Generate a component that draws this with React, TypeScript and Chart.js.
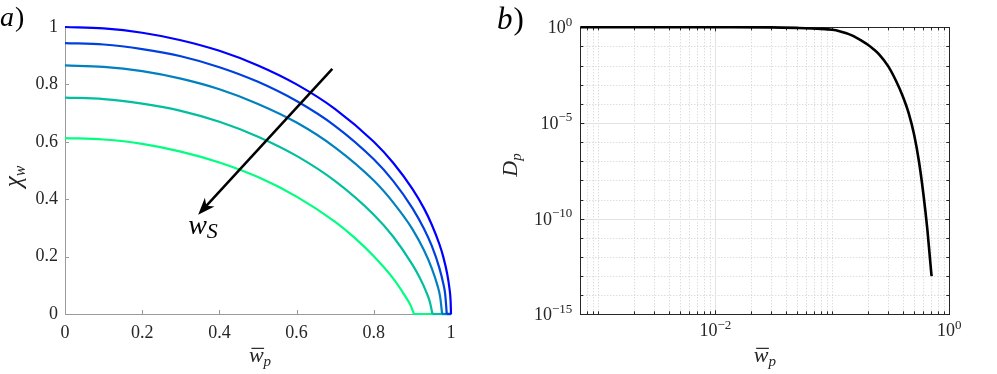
import React, { useEffect, useRef } from "react";
import { Chart, registerables } from "chart.js";

Chart.register(...registerables);

const SERIF = '"Liberation Serif", "DejaVu Serif", serif';
const TEXT = "#262626";
const AXIS_A = "#9a9a9a";
const BOX_B = "#262626";

// ---------------- Panel a data ----------------
const wpTicksA = [0, 0.2, 0.4, 0.6, 0.8, 1];
const chiTicksA = [0, 0.2, 0.4, 0.6, 0.8, 1];

const curve1Wp = [0, 0.1, 0.2, 0.3, 0.4, 0.5, 0.6, 0.7, 0.8, 0.85, 0.9, 0.93, 0.95, 0.97, 0.98, 0.99, 0.996, 0.999, 1.0];
const curve1Chi = [1.0, 0.995, 0.98, 0.954, 0.917, 0.866, 0.8, 0.714, 0.6, 0.527, 0.436, 0.368, 0.312, 0.243, 0.199, 0.141, 0.089, 0.045, 0];

const curve2Wp = [0, 0.1, 0.2, 0.3, 0.4, 0.5, 0.6, 0.7, 0.8, 0.85, 0.9, 0.93, 0.95, 0.97, 0.98, 0.985, 0.989, 1.0];
const curve2Chi = [0.944, 0.939, 0.923, 0.898, 0.86, 0.809, 0.742, 0.655, 0.539, 0.464, 0.369, 0.297, 0.238, 0.16, 0.106, 0.068, 0, 0];

const curve3Wp = [0, 0.1, 0.2, 0.3, 0.4, 0.5, 0.6, 0.7, 0.8, 0.85, 0.9, 0.93, 0.95, 0.965, 0.972, 0.977, 1.0];
const curve3Chi = [0.866, 0.861, 0.846, 0.82, 0.783, 0.732, 0.667, 0.58, 0.465, 0.389, 0.296, 0.222, 0.16, 0.099, 0.059, 0, 0];

const curve4Wp = [0, 0.1, 0.2, 0.3, 0.4, 0.5, 0.6, 0.7, 0.8, 0.85, 0.9, 0.92, 0.935, 0.945, 0.952, 1.0];
const curve4Chi = [0.754, 0.749, 0.733, 0.708, 0.67, 0.618, 0.551, 0.463, 0.346, 0.27, 0.172, 0.124, 0.08, 0.043, 0, 0];

const curve5Wp = [0, 0.1, 0.2, 0.3, 0.4, 0.5, 0.6, 0.7, 0.75, 0.8, 0.85, 0.88, 0.895, 0.904, 1.0];
const curve5Chi = [0.613, 0.608, 0.593, 0.566, 0.528, 0.477, 0.409, 0.321, 0.266, 0.201, 0.124, 0.065, 0.031, 0, 0];

const curveColors = ["#0000ff", "#0040df", "#0080bf", "#00bf9f", "#00ff80"];

const arrowFrom = [0.6925, 0.854];
const arrowTo = [0.345, 0.346];
const arrowLabelAt = [0.319, 0.278];

// ---------------- Panel b data ----------------
const dpWp = [0.0007, 0.001, 0.003, 0.01, 0.03, 0.05, 0.08, 0.1, 0.115, 0.13, 0.145, 0.16, 0.18, 0.2, 0.225, 0.25, 0.3, 0.35, 0.4, 0.45, 0.5, 0.55, 0.6, 0.65, 0.7, 0.706];
const dpVal = [1, 1, 0.9999, 0.999, 0.99, 0.93, 0.83, 0.74, 0.63, 0.5, 0.39, 0.29, 0.19, 0.127, 0.072, 0.04, 9.3e-3, 1.6e-3, 2.5e-4, 3.2e-5, 2.5e-6, 1e-7, 2e-9, 2.5e-11, 1.6e-13, 1e-13];

const xTicksB = [1e-2, 1];
const xTickExpB = ["\u22122", "0"];
const yTicksB = [1, 1e-5, 1e-10, 1e-15];
const yTickExpB = ["0", "\u22125", "\u221210", "\u221215"];

// ---------------- helpers ----------------
type Part = { t: string; size: number; italic?: boolean; dy?: number; dx?: number; bar?: boolean };
const fontOf = (p: Part) => `${p.italic ? "italic " : ""}${p.size}px ${SERIF}`;

function measureParts(ctx: CanvasRenderingContext2D, parts: Part[]) {
  let w = 0;
  for (const p of parts) {
    ctx.font = fontOf(p);
    w += ctx.measureText(p.t).width + (p.dx || 0);
  }
  return w;
}

function drawParts(ctx: CanvasRenderingContext2D, parts: Part[], x: number, y: number) {
  let cx = x;
  for (const p of parts) {
    ctx.font = fontOf(p);
    const w = ctx.measureText(p.t).width;
    const px = cx + (p.dx || 0);
    ctx.fillText(p.t, px, y + (p.dy || 0));
    if (p.bar) {
      ctx.save();
      ctx.lineWidth = 1.2;
      ctx.strokeStyle = ctx.fillStyle as string;
      ctx.beginPath();
      const by = y + (p.dy || 0) - p.size * 0.62;
      ctx.moveTo(px + 2.5, by);
      ctx.lineTo(px + w + 0.5, by);
      ctx.stroke();
      ctx.restore();
    }
    cx = px + w;
  }
}

const wpTitle: Part[] = [
  { t: "w", size: 22, italic: true, bar: true },
  { t: "p", size: 15, italic: true, dy: 4, dx: 0 },
];

// ---------------- plugins ----------------
const panelAPlugin = {
  id: "panelA",
  beforeDatasetsDraw(chart: any) {
    const { ctx, chartArea: ca, scales } = chart;
    const xs = scales.x, ys = scales.y;
    ctx.save();
    ctx.strokeStyle = AXIS_A;
    ctx.lineWidth = 1;
    ctx.beginPath();
    for (const v of wpTicksA) {
      const px = Math.round(xs.getPixelForValue(v)) + 0.5;
      ctx.moveTo(px, ca.bottom);
      ctx.lineTo(px, ca.bottom - 4);
    }
    for (const v of chiTicksA) {
      const py = Math.round(ys.getPixelForValue(v)) + 0.5;
      ctx.moveTo(ca.left, py);
      ctx.lineTo(ca.left + 4, py);
    }
    ctx.stroke();
    ctx.restore();
  },
  afterDatasetsDraw(chart: any) {
    const { ctx, scales } = chart;
    const xs = scales.x, ys = scales.y;
    ctx.save();
    const x0 = xs.getPixelForValue(arrowFrom[0]);
    const y0 = ys.getPixelForValue(arrowFrom[1]);
    const x1 = xs.getPixelForValue(arrowTo[0]);
    const y1 = ys.getPixelForValue(arrowTo[1]);
    const len = Math.hypot(x1 - x0, y1 - y0);
    const ux = (x1 - x0) / len, uy = (y1 - y0) / len;
    const L = 17, W = 6.5, inset = 5;
    ctx.strokeStyle = "#000";
    ctx.fillStyle = "#000";
    ctx.lineWidth = 2.5;
    ctx.beginPath();
    ctx.moveTo(x0, y0);
    ctx.lineTo(x1 - ux * (L - inset), y1 - uy * (L - inset));
    ctx.stroke();
    ctx.beginPath();
    ctx.moveTo(x1, y1);
    ctx.lineTo(x1 - ux * L - uy * W, y1 - uy * L + ux * W);
    ctx.lineTo(x1 - ux * (L - inset), y1 - uy * (L - inset));
    ctx.lineTo(x1 - ux * L + uy * W, y1 - uy * L - ux * W);
    ctx.closePath();
    ctx.fill();
    const lx = xs.getPixelForValue(arrowLabelAt[0]);
    const ly = ys.getPixelForValue(arrowLabelAt[1]);
    drawParts(ctx, [
      { t: "w", size: 28, italic: true },
      { t: "S", size: 22, italic: true, dy: 4, dx: 0 },
    ], lx, ly);
    ctx.restore();
  },
  afterDraw(chart: any) {
    const { ctx, chartArea: ca } = chart;
    ctx.save();
    ctx.fillStyle = TEXT;
    ctx.textBaseline = "alphabetic";
    const wT = measureParts(ctx, wpTitle);
    drawParts(ctx, wpTitle, (ca.left + ca.right) / 2 + 2 - wT / 2, 362);
    const yT: Part[] = [
      { t: "\u03c7", size: 25, italic: true },
      { t: "w", size: 16, italic: true, dy: 4 },
    ];
    const wY = measureParts(ctx, yT);
    ctx.save();
    ctx.translate(21, 176.5);
    ctx.rotate(-Math.PI / 2);
    drawParts(ctx, yT, -wY / 2, 0);
    ctx.restore();
    ctx.fillStyle = "#000";
    drawParts(ctx, [
      { t: "a", size: 28, italic: true },
      { t: ")", size: 28, dx: 1 },
    ], 0, 25.5);
    ctx.restore();
  },
};

const panelBPlugin = {
  id: "panelB",
  beforeDatasetsDraw(chart: any) {
    const { ctx, chartArea: ca, scales } = chart;
    const xs = scales.x, ys = scales.y;
    const xMin = xs.min, xMax = xs.max, yMin = ys.min, yMax = ys.max;
    const xMinor: number[] = [];
    for (let d = Math.floor(Math.log10(xMin)); d <= Math.ceil(Math.log10(xMax)); d++) {
      for (let k = 1; k <= 9; k++) {
        const v = k * Math.pow(10, d);
        if (v <= xMin * 1.0001 || v >= xMax * 0.9999) continue;
        if (xTicksB.some((t) => Math.abs(t - v) / t < 1e-6)) continue;
        xMinor.push(v);
      }
    }
    const yMinor: number[] = [];
    for (let d = Math.round(Math.log10(yMin)) + 1; d < Math.round(Math.log10(yMax)); d++) {
      if (yTicksB.some((t) => Math.abs(Math.log10(t) - d) < 1e-6)) continue;
      yMinor.push(Math.pow(10, d));
    }
    ctx.save();
    ctx.strokeStyle = "#cfcfcf";
    ctx.lineWidth = 1;
    ctx.setLineDash([1, 2]);
    ctx.beginPath();
    for (const v of xMinor) {
      const px = Math.round(xs.getPixelForValue(v)) + 0.5;
      ctx.moveTo(px, ca.top);
      ctx.lineTo(px, ca.bottom);
    }
    for (const v of yMinor) {
      const py = Math.round(ys.getPixelForValue(v)) + 0.5;
      ctx.moveTo(ca.left, py);
      ctx.lineTo(ca.right, py);
    }
    ctx.stroke();
    ctx.setLineDash([]);
    ctx.strokeStyle = "#e3e3e3";
    ctx.beginPath();
    for (const v of xTicksB) {
      const px = Math.round(xs.getPixelForValue(v)) + 0.5;
      ctx.moveTo(px, ca.top);
      ctx.lineTo(px, ca.bottom);
    }
    for (const v of yTicksB) {
      const py = Math.round(ys.getPixelForValue(v)) + 0.5;
      ctx.moveTo(ca.left, py);
      ctx.lineTo(ca.right, py);
    }
    ctx.stroke();
    ctx.strokeStyle = BOX_B;
    ctx.beginPath();
    const tickX = (v: number, l: number) => {
      const px = Math.round(xs.getPixelForValue(v)) + 0.5;
      ctx.moveTo(px, ca.bottom);
      ctx.lineTo(px, ca.bottom - l);
      ctx.moveTo(px, ca.top);
      ctx.lineTo(px, ca.top + l);
    };
    const tickY = (v: number, l: number) => {
      const py = Math.round(ys.getPixelForValue(v)) + 0.5;
      ctx.moveTo(ca.left, py);
      ctx.lineTo(ca.left + l, py);
      ctx.moveTo(ca.right, py);
      ctx.lineTo(ca.right - l, py);
    };
    xMinor.forEach((v) => tickX(v, 3));
    xTicksB.forEach((v) => tickX(v, 4));
    yMinor.forEach((v) => tickY(v, 3));
    yTicksB.forEach((v) => tickY(v, 4));
    ctx.stroke();
    ctx.strokeRect(Math.round(ca.left) + 0.5, Math.round(ca.top) + 0.5, Math.round(ca.right - ca.left), Math.round(ca.bottom - ca.top));
    ctx.restore();
  },
  afterDraw(chart: any) {
    const { ctx, chartArea: ca, scales } = chart;
    const xs = scales.x, ys = scales.y;
    ctx.save();
    ctx.fillStyle = TEXT;
    ctx.textBaseline = "alphabetic";
    yTicksB.forEach((v, i) => {
      const py = ys.getPixelForValue(v);
      const parts: Part[] = [
        { t: "10", size: 18 },
        { t: yTickExpB[i], size: 13, dy: -7.5 },
      ];
      const w = measureParts(ctx, parts);
      drawParts(ctx, parts, ca.left - 8 - w, py + 6);
    });
    xTicksB.forEach((v, i) => {
      const px = xs.getPixelForValue(v);
      const parts: Part[] = [
        { t: "10", size: 18 },
        { t: xTickExpB[i], size: 13, dy: -7.5 },
      ];
      const w = measureParts(ctx, parts);
      drawParts(ctx, parts, px - w / 2, 336);
    });
    const wT = measureParts(ctx, wpTitle);
    drawParts(ctx, wpTitle, (ca.left + ca.right) / 2 - wT / 2, 362);
    const yT: Part[] = [
      { t: "D", size: 22, italic: true },
      { t: "p", size: 15, italic: true, dy: 4 },
    ];
    const wY = measureParts(ctx, yT);
    ctx.save();
    ctx.translate(517 - 490, 165);
    ctx.rotate(-Math.PI / 2);
    drawParts(ctx, yT, -wY / 2, 0);
    ctx.restore();
    ctx.fillStyle = "#000";
    drawParts(ctx, [
      { t: "b", size: 31, italic: true },
      { t: ")", size: 31, dx: 1 },
    ], 7, 28.5);
    ctx.restore();
  },
};

export default function App() {
  const refA = useRef<HTMLCanvasElement>(null);
  const refB = useRef<HTMLCanvasElement>(null);

  useEffect(() => {
    const curves = [
      [curve1Wp, curve1Chi],
      [curve2Wp, curve2Chi],
      [curve3Wp, curve3Chi],
      [curve4Wp, curve4Chi],
      [curve5Wp, curve5Chi],
    ];
    const fmtA = (v: number) => (v === 0 ? "0" : v === 1 ? "1" : v.toFixed(1));
    const tickFont = { family: SERIF, size: 18 };

    const datasetsA: any[] = [];
    curves.forEach(([wp, chi], i) => {
      const pts = wp.map((w, j) => ({ x: w, y: chi[j] }));
      const firstZero = chi.findIndex((c) => c === 0);
      const arc = pts.slice(0, firstZero + 1);
      const flat = pts.slice(firstZero);
      const common = { borderColor: curveColors[i], borderWidth: 2.2, pointRadius: 0, fill: false, clip: false };
      datasetsA.push({ ...common, data: arc, cubicInterpolationMode: "monotone" });
      if (flat.length > 1) datasetsA.push({ ...common, data: flat, tension: 0 });
    });

    const chartA = new Chart(refA.current as HTMLCanvasElement, {
      type: "line",
      data: { datasets: datasetsA },
      options: {
        responsive: false,
        animation: false,
        devicePixelRatio: 1,
        events: [],
        layout: { padding: { left: 0, top: 27, right: 39, bottom: 0 } },
        plugins: { legend: { display: false }, tooltip: { enabled: false } },
        scales: {
          x: {
            type: "linear",
            min: 0,
            max: 1,
            afterBuildTicks: (s: any) => {
              s.ticks = wpTicksA.map((v) => ({ value: v }));
            },
            afterFit: (s: any) => {
              s.height = 60;
            },
            grid: { display: false, drawTicks: false },
            border: { display: true, color: AXIS_A, width: 1 },
            ticks: { font: tickFont, color: TEXT, padding: 8, maxRotation: 0, callback: (v: any) => fmtA(Number(v)) },
          },
          y: {
            type: "linear",
            min: 0,
            max: 1,
            afterBuildTicks: (s: any) => {
              s.ticks = chiTicksA.map((v) => ({ value: v }));
            },
            afterFit: (s: any) => {
              s.width = 65;
            },
            grid: { display: false, drawTicks: false },
            border: { display: true, color: AXIS_A, width: 1 },
            ticks: { font: tickFont, color: TEXT, padding: 7, callback: (v: any) => fmtA(Number(v)) },
          },
        },
      },
      plugins: [panelAPlugin as any],
    });

    const chartB = new Chart(refB.current as HTMLCanvasElement, {
      type: "line",
      data: {
        datasets: [
          {
            data: dpWp.map((w, j) => ({ x: w, y: dpVal[j] })),
            borderColor: "#000",
            borderWidth: 2.6,
            pointRadius: 0,
            fill: false,
            cubicInterpolationMode: "monotone" as const,
            clip: false as any,
          },
        ],
      },
      options: {
        responsive: false,
        animation: false,
        devicePixelRatio: 1,
        events: [],
        layout: { padding: { left: 0, top: 27.3, right: 47.7, bottom: 0 } },
        plugins: { legend: { display: false }, tooltip: { enabled: false } },
        scales: {
          x: {
            type: "logarithmic",
            min: 7e-4,
            max: 1,
            afterBuildTicks: (s: any) => {
              s.ticks = xTicksB.map((v) => ({ value: v }));
            },
            afterFit: (s: any) => {
              s.height = 59.7;
            },
            grid: { display: false, drawTicks: false },
            border: { display: false },
            ticks: { display: false },
          },
          y: {
            type: "logarithmic",
            min: 1e-15,
            max: 1,
            afterBuildTicks: (s: any) => {
              s.ticks = yTicksB.map((v) => ({ value: v }));
            },
            afterFit: (s: any) => {
              s.width = 90.3;
            },
            grid: { display: false, drawTicks: false },
            border: { display: false },
            ticks: { display: false },
          },
        },
      },
      plugins: [panelBPlugin as any],
    });

    return () => {
      chartA.destroy();
      chartB.destroy();
    };
  }, []);

  return (
    <div style={{ position: "fixed", left: 0, top: 0, width: 997, height: 374, background: "#fff", overflow: "hidden" }}>
      <canvas ref={refA} width={490} height={374} style={{ position: "absolute", left: 0, top: 0, width: 490, height: 374 }} />
      <canvas ref={refB} width={507} height={374} style={{ position: "absolute", left: 490, top: 0, width: 507, height: 374 }} />
    </div>
  );
}
